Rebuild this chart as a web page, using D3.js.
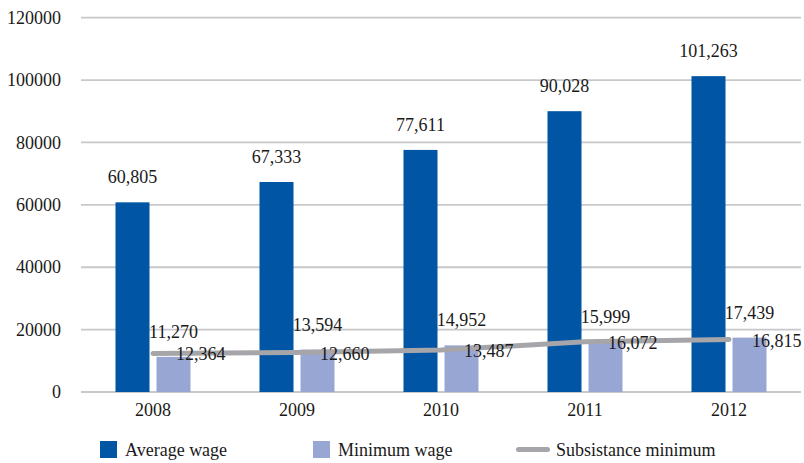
<!DOCTYPE html>
<html>
<head>
<meta charset="utf-8">
<script src="https://cdn.jsdelivr.net/npm/d3@7/dist/d3.min.js"></script>
<style>
  html, body { margin: 0; padding: 0; background: #fff; }
  svg { display: block; }
  svg text { font-family: "Liberation Serif", "Times New Roman", serif; }
</style>
</head>
<body>
<svg id="chart" width="804" height="463"></svg>
<script>
// Wage figures by year
const years = ["2008", "2009", "2010", "2011", "2012"];
const averageWage = [60805, 67333, 77611, 90028, 101263];
const minimumWage = [11270, 13594, 14952, 15999, 17439];
const subsistenceMinimum = [12364, 12660, 13487, 16072, 16815];
const yTicks = [0, 20000, 40000, 60000, 80000, 100000, 120000];
const seriesNames = ["Average wage", "Minimum wage", "Subsistance minimum"];

const colors = { avg: "#0055A4", min: "#97A6D3", line: "#A6A6AA", grid: "#C8C8CC", text: "#1a1a1a" };
const FONT = "'Liberation Serif', 'Times New Roman', serif";

const svg = d3.select("#chart");
const margin = { left: 81, right: 3, top: 17.7, bottom: 71 };
const W = 804, H = 463;

const x = d3.scaleBand()
  .domain(years)
  .range([margin.left, W - margin.right])
  .paddingInner(69 / 144)
  .paddingOuter(69 / 288);

const x1 = d3.scaleBand()
  .domain(["avg", "min"])
  .range([0, x.bandwidth()])
  .paddingInner(7 / 41);

const y = d3.scaleLinear()
  .domain([0, 120000])
  .range([H - margin.bottom, margin.top]);

// Gridlines
svg.append("g")
  .selectAll("line")
  .data(yTicks)
  .join("line")
  .attr("x1", margin.left)
  .attr("x2", W - margin.right)
  .attr("y1", d => y(d))
  .attr("y2", d => y(d))
  .attr("stroke", colors.grid)
  .attr("stroke-width", 1.8);

// Y axis labels
const yAxis = d3.axisLeft(y).tickValues(yTicks).tickFormat(d3.format("d")).tickSize(0).tickPadding(20);
const yg = svg.append("g").attr("transform", `translate(${margin.left},0)`).call(yAxis);
yg.select(".domain").remove();
yg.attr("font-family", null).attr("font-size", null);
yg.selectAll("text")
  .style("font-size", "18px")
  .style("font-family", FONT)
  .attr("fill", colors.text);

// X axis labels
const xAxis = d3.axisBottom(x).tickSize(0).tickPadding(11);
const xg = svg.append("g").attr("transform", `translate(0,${y(0)})`).call(xAxis);
xg.select(".domain").remove();
xg.attr("font-family", null).attr("font-size", null);
xg.selectAll("text")
  .style("font-size", "18px")
  .style("font-family", FONT)
  .attr("fill", colors.text);

const rows = years.map((yr, i) => ({
  year: yr, avg: averageWage[i], min: minimumWage[i], sub: subsistenceMinimum[i]
}));

// Bars
const groups = svg.append("g")
  .selectAll("g")
  .data(rows)
  .join("g")
  .attr("transform", d => `translate(${x(d.year)},0)`);

groups.append("rect")
  .attr("x", x1("avg"))
  .attr("width", x1.bandwidth())
  .attr("y", d => y(d.avg))
  .attr("height", d => y(0) - y(d.avg))
  .attr("fill", colors.avg);

groups.append("rect")
  .attr("x", x1("min"))
  .attr("width", x1.bandwidth())
  .attr("y", d => y(d.min))
  .attr("height", d => y(0) - y(d.min))
  .attr("fill", colors.min);

// Subsistence minimum line
const cx = d => x(d.year) + x.bandwidth() / 2;
const line = d3.line().x(cx).y(d => y(d.sub));
svg.append("path")
  .datum(rows)
  .attr("d", line)
  .attr("fill", "none")
  .attr("stroke", colors.line)
  .attr("stroke-width", 5)
  .attr("stroke-linecap", "round")
  .attr("stroke-linejoin", "round");

// Value labels
const fmt = d3.format(",");
const labels = svg.append("g")
  .style("font-size", "18px")
  .style("font-family", FONT)
  .attr("fill", colors.text);

labels.selectAll(".lab-avg")
  .data(rows)
  .join("text")
  .attr("class", "lab-avg")
  .attr("x", d => x(d.year) + x1("avg") + x1.bandwidth() / 2)
  .attr("y", d => y(d.avg) - 19)
  .attr("text-anchor", "middle")
  .text(d => fmt(d.avg));

labels.selectAll(".lab-min")
  .data(rows)
  .join("text")
  .attr("class", "lab-min")
  .attr("x", d => x(d.year) + x1("min") + x1.bandwidth() / 2)
  .attr("y", d => y(d.min) - 19)
  .attr("text-anchor", "middle")
  .text(d => fmt(d.min));

labels.selectAll(".lab-sub")
  .data(rows)
  .join("text")
  .attr("class", "lab-sub")
  .attr("x", d => cx(d) + 23)
  .attr("y", d => y(d.sub) + 7)
  .attr("text-anchor", "start")
  .text(d => fmt(d.sub));

// Legend
const legend = svg.append("g")
  .style("font-size", "18px")
  .style("font-family", FONT)
  .attr("fill", colors.text);
const legendItems = [
  { name: seriesNames[0], type: "rect", color: colors.avg, x: 100 },
  { name: seriesNames[1], type: "rect", color: colors.min, x: 313 },
  { name: seriesNames[2], type: "line", color: colors.line, x: 516 }
];
const legendY = 449.5;
legendItems.forEach(item => {
  if (item.type === "rect") {
    legend.append("rect")
      .attr("x", item.x).attr("y", legendY - 8.5)
      .attr("width", 17).attr("height", 17)
      .attr("fill", item.color);
    legend.append("text")
      .attr("x", item.x + 25).attr("y", legendY + 6.5)
      .text(item.name);
  } else {
    legend.append("line")
      .attr("x1", item.x + 2.5).attr("x2", item.x + 31.5)
      .attr("y1", legendY).attr("y2", legendY)
      .attr("stroke", item.color).attr("stroke-width", 5)
      .attr("stroke-linecap", "round");
    legend.append("text")
      .attr("x", item.x + 40).attr("y", legendY + 6.5)
      .text(item.name);
  }
});
</script>
</body>
</html>
